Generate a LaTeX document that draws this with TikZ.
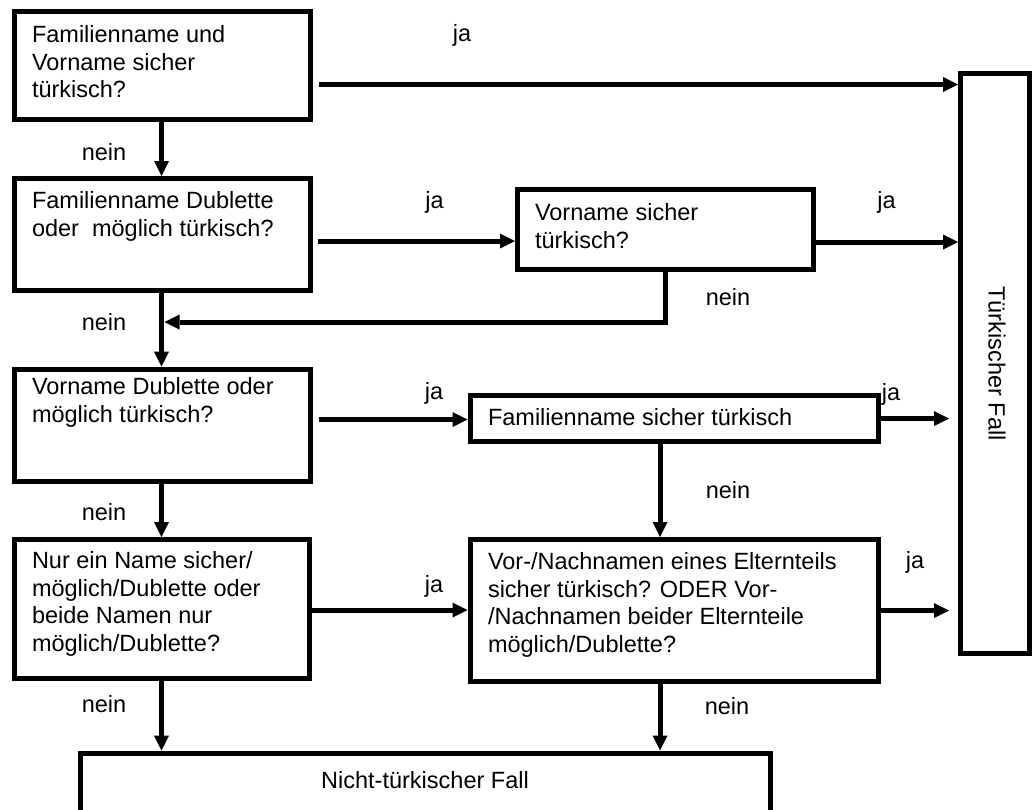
\documentclass[tikz,border=0pt]{standalone}
\usepackage{fontspec}
\setmainfont{Liberation Sans}
\usetikzlibrary{arrows.meta,calc}
\begin{document}
\begin{tikzpicture}[x=1pt,y=-1pt,
  box/.style={draw, line width=5pt, inner sep=0pt, outer sep=2.5pt},
  txt/.style={inner sep=0pt, outer sep=0pt, align=left, anchor=north west, font=\fontsize{23.5pt}{27.8pt}\selectfont},
  lbl/.style={inner sep=0pt, outer sep=0pt, font=\fontsize{23.5pt}{27.8pt}\selectfont},
  arr/.style={line width=5pt, -{Triangle[length=15pt,width=15pt,line width=0pt]}},
]
\useasboundingbox (0,0) rectangle (1032,809);
\clip (0,0) rectangle (1032,809);

% boxes
\node[box, minimum width=295.5pt, minimum height=107.5pt] (b1) at (162.25,65.25) {};
\node[box, minimum width=295.5pt, minimum height=111.5pt] (b2) at (162.25,234.25) {};
\node[box, minimum width=295.5pt, minimum height=112.5pt] (b3) at (162.25,425.25) {};
\node[box, minimum width=295pt, minimum height=138.5pt] (b4) at (162,608.75) {};
\node[box, minimum width=296pt, minimum height=80pt] (vs) at (665.5,229.5) {};
\node[box, minimum width=408.5pt, minimum height=46.5pt] (fs) at (674.25,418.25) {};
\node[box, minimum width=408.5pt, minimum height=142pt] (el) at (674.25,610.5) {};
\node[box, minimum width=69pt, minimum height=580pt] (tf) at (995,363.5) {};
\node[box, minimum width=690pt, minimum height=100pt] (nt) at (425,803) {};

% texts
\node[txt] (t1) at (32,25.2) {Familienname und\\Vorname sicher\\türkisch?};
\node[txt] (t2) at (32,191.2) {Familienname Dublette\\oder~~möglich türkisch?};
\node[txt] (t3) at (32,377.2) {Vorname Dublette oder\\möglich türkisch?};
\node[txt] (t4) at (32,551.2) {Nur ein Name sicher/\\möglich/Dublette oder\\beide Namen nur\\möglich/Dublette?};
\node[txt] (tvs) at (535,203.2) {Vorname sicher\\türkisch?};
\node[lbl, anchor=base west] (tfs) at (488,425) {Familienname sicher türkisch};
\node[txt] (tel) at (488,552.2) {Vor-/Nachnamen eines Elternteils\\sicher türkisch? ODER Vor-\\/Nachnamen beider Elternteile\\möglich/Dublette?};
\node[lbl, rotate=-90] (ttf) at (997,363.5) {Türkischer Fall};
\node[lbl, anchor=base] (tnt) at (425,788) {Nicht-türkischer Fall};

% junction on the left vertical line
\coordinate (j1) at (164.5,322);

% connectors
\draw[arr] ($(b1.east|-0,84.5)+(6,0)$) -- (tf.west|-0,84.5);
\draw[arr] (b1.south-|161.5,0) -- (b2.north-|161.5,0);
\draw[arr] ($(b2.east|-0,241)+(5,0)$) -- (vs.west|-0,241);
\draw[arr] (vs.east|-0,242) -- (tf.west|-0,242);
\draw[arr] (vs.south-|665,0) |- (j1);
\draw[arr] (b2.south-|161.5,0) -- (b3.north-|161.5,0);
\draw[arr] ($(b3.east|-0,419.5)+(6,0)$) -- (fs.west|-0,419.5);
\draw[arr] (fs.east|-0,418.5) -- ($(tf.west|-0,418.5)+(-9,0)$);
\draw[arr] (fs.south-|660,0) -- (el.north-|660,0);
\draw[arr] (b3.south-|161.5,0) -- (b4.north-|161.5,0);
\draw[arr] (b4.east|-0,610) -- (el.west|-0,610);
\draw[arr] (el.east|-0,610.5) -- ($(tf.west|-0,610.5)+(-9,0)$);
\draw[arr] (b4.south-|161.5,0) -- (nt.north-|161.5,0);
\draw[arr] (el.south-|660,0) -- (nt.north-|660,0);

% labels
\node[lbl] (l1) at (462,35) {ja};
\node[lbl] (l2) at (104,152.5) {nein};
\node[lbl] (l3) at (434.5,202) {ja};
\node[lbl] (l4) at (886.5,202) {ja};
\node[lbl] (l5) at (728,297) {nein};
\node[lbl] (l6) at (104,322) {nein};
\node[lbl] (l7) at (434,393) {ja};
\node[lbl] (l8) at (891,394) {ja};
\node[lbl] (l9) at (728,490) {nein};
\node[lbl] (l10) at (104,512.5) {nein};
\node[lbl] (l11) at (434,586) {ja};
\node[lbl] (l12) at (915,562) {ja};
\node[lbl] (l13) at (104,704) {nein};
\node[lbl] (l14) at (727,706) {nein};
\end{tikzpicture}
\end{document}
